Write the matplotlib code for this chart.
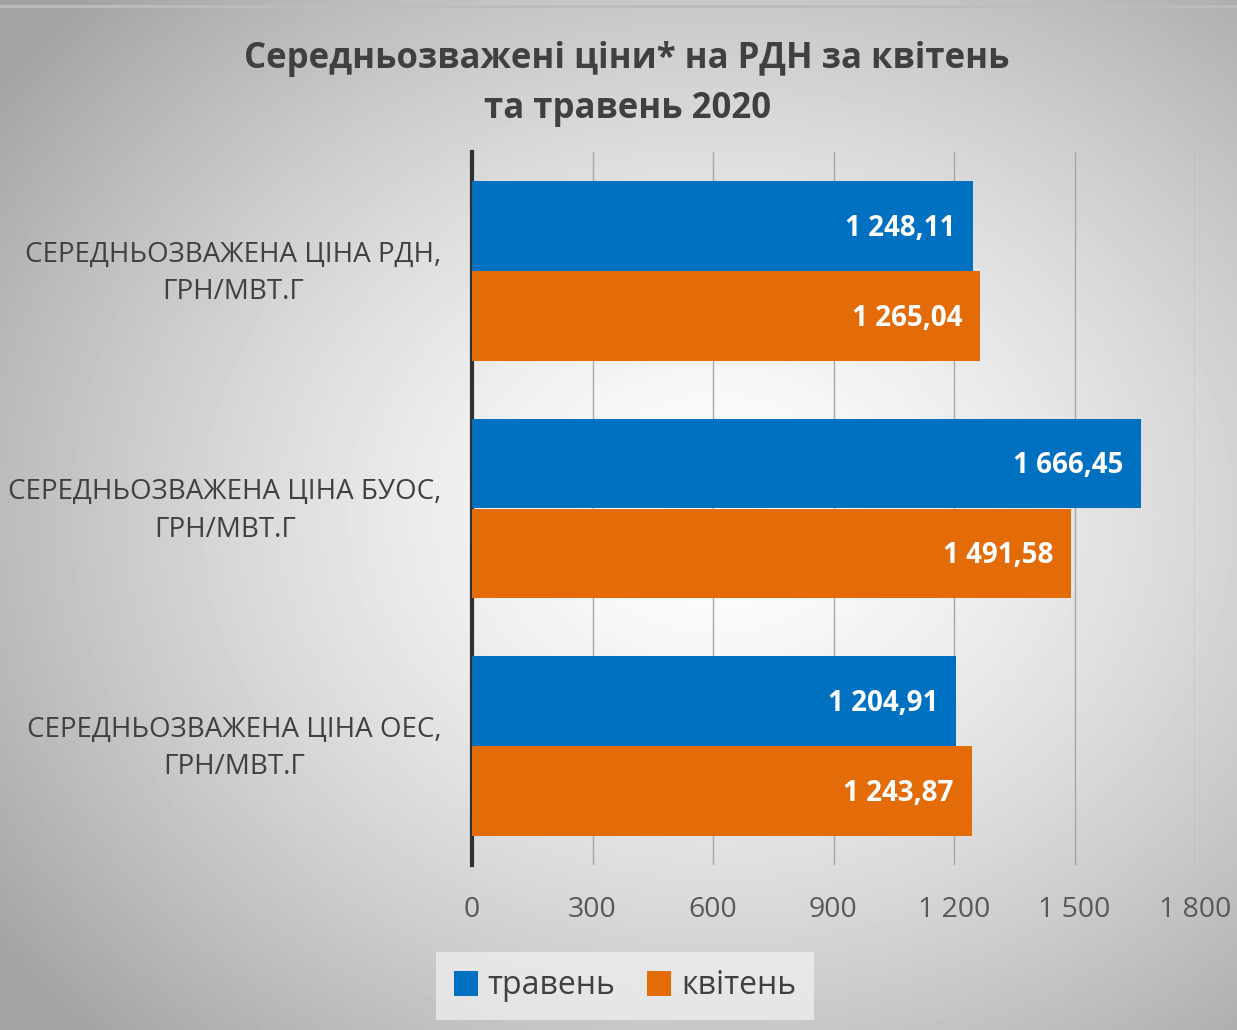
import matplotlib
matplotlib.use("Agg")
import matplotlib.pyplot as plt
import numpy as np
from matplotlib.ticker import FuncFormatter

plt.rcParams['font.family'] = ['Open Sans', 'DejaVu Sans']

categories = ['СЕРЕДНЬОЗВАЖЕНА ЦІНА РДН,\nГРН/МВТ.Г',
              'СЕРЕДНЬОЗВАЖЕНА ЦІНА БУОС,\nГРН/МВТ.Г',
              'СЕРЕДНЬОЗВАЖЕНА ЦІНА ОЕС,\nГРН/МВТ.Г']
may_values = [1248.11, 1666.45, 1204.91]
april_values = [1265.04, 1491.58, 1243.87]
series_names = ['травень', 'квітень']
xticks = [0, 300, 600, 900, 1200, 1500, 1800]

blue = '#0070C0'
orange = '#E36C09'

fig = plt.figure(figsize=(12.37, 10.30), dpi=100)

# radial gradient background
bg = fig.add_axes([0, 0, 1, 1], zorder=-10)
yy, xx = np.mgrid[0:1:300j, 0:1:360j]
r = np.sqrt(((xx - 0.58) / 0.72) ** 2 + ((yy - 0.50) / 0.72) ** 2)
shade = 1.0 - 0.36 * np.clip(r, 0, 1) ** 1.4
bg.imshow(shade, cmap='gray', vmin=0, vmax=1, aspect='auto', extent=[0, 1, 0, 1])
bg.plot([0, 1], [0.994, 0.994], color='#bcbcbc', lw=2)
bg.set_xlim(0, 1)
bg.set_ylim(0, 1)
bg.axis('off')

ax = fig.add_axes([472 / 1237, 1 - 865 / 1030, (1195 - 472) / 1237, (865 - 152) / 1030])
ax.patch.set_alpha(0)

h = 0.378
y = np.arange(len(categories))
b1 = ax.barh(y - h / 2, may_values, height=h, color=blue, label=series_names[0], zorder=3)
b2 = ax.barh(y + h / 2, april_values, height=h, color=orange, label=series_names[1], zorder=3)

def fmt(v):
    s = f'{v:,.2f}'.replace(',', ' ').replace('.', ',')
    return s

for bars, vals in [(b1, may_values), (b2, april_values)]:
    for bar, v in zip(bars, vals):
        ax.text(v - 45, bar.get_y() + bar.get_height() / 2 + 0.01, fmt(v), color='white',
                fontsize=20, fontweight='bold', ha='right', va='center', zorder=4)

ax.set_ylim(len(categories) - 0.5, -0.5)
ax.set_xlim(0, 1800)
ax.set_xticks(xticks)
ax.xaxis.set_major_formatter(FuncFormatter(lambda v, p: f'{int(v):,}'.replace(',', ' ')))
ax.grid(axis='x', color='#a6a6a6', lw=1, zorder=0)
ax.set_yticks(y - 0.025)
ax.set_yticklabels(categories, fontsize=20, color='#404040', multialignment='center',
                   linespacing=1.45)
ax.tick_params(axis='y', length=0, pad=22)
ax.tick_params(axis='x', length=0, pad=22, labelsize=20.5, labelcolor='#595959')
for s in ['top', 'right', 'bottom']:
    ax.spines[s].set_visible(False)
ax.spines['left'].set_color('#303030')
ax.spines['left'].set_linewidth(3)

fig.text(0.507, 1 - 59 / 1030, 'Середньозважені ціни* на РДН за квітень', ha='center', va='center',
         fontsize=25, fontweight='bold', color='#404040')
fig.text(0.507, 1 - 109 / 1030, 'та травень 2020', ha='center', va='center',
         fontsize=25, fontweight='bold', color='#404040')

leg = fig.legend(handles=[b1, b2], loc='center', bbox_to_anchor=(625 / 1237, 1 - 986 / 1030),
                 ncol=2, frameon=True, fontsize=23, handlelength=0.75, handleheight=0.85,
                 handletextpad=0.3, columnspacing=1.0, borderpad=0.25)
leg.get_frame().set_facecolor('#f2f2f2')
leg.get_frame().set_alpha(0.7)
leg.get_frame().set_edgecolor('none')
leg.get_frame().set_boxstyle('square')
for t in leg.get_texts():
    t.set_color('#404040')

fig.savefig('out.png', dpi=100)
